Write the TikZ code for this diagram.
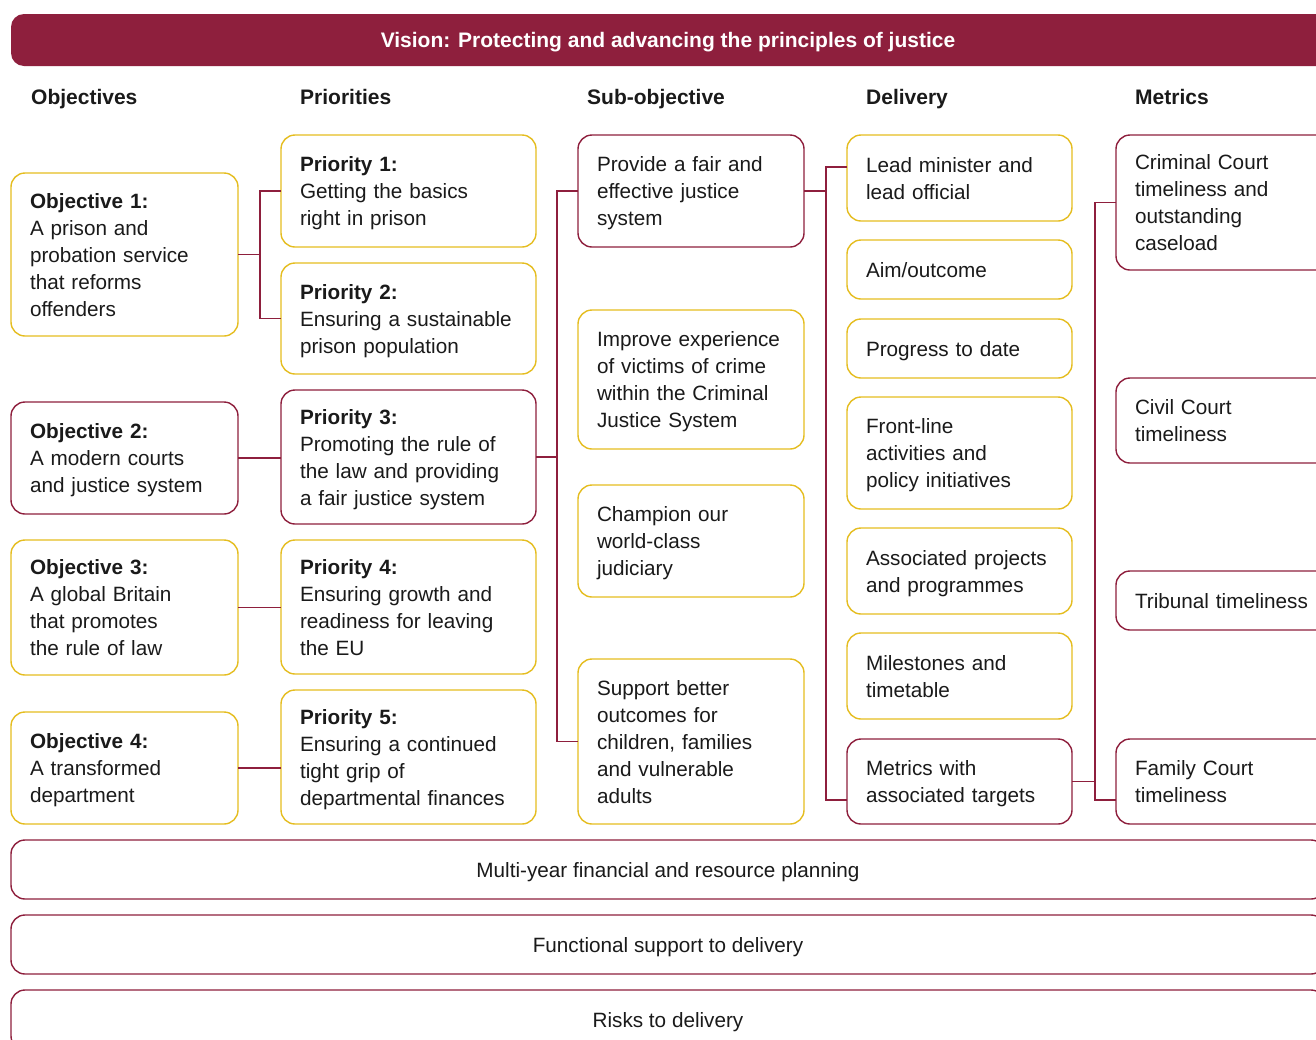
\documentclass[tikz,border=0pt]{standalone}
\usepackage{fontspec}
\setmainfont{Liberation Sans}
\definecolor{crim}{RGB}{142,31,61}
\definecolor{gold}{RGB}{229,189,32}
\definecolor{ink}{RGB}{26,26,26}
\newcommand\linestrut{\rule[-6pt]{0pt}{27pt}}
\begin{document}
\begin{tikzpicture}[x=1pt,y=-1pt,
  bx/.style={draw, rounded corners=14pt, line width=1.4pt, anchor=north west, align=left,
    inner xsep=19pt, inner ysep=0pt, outer sep=0pt, font=\fontsize{20.7}{27}\selectfont, text=ink,
    execute at begin node={\linestrut}, execute at end node={\linestrut}},
  gbx/.style={bx, draw=gold},
  cbx/.style={bx, draw=crim},
  bar/.style={draw=crim, rounded corners=14pt, line width=1.4pt, anchor=north west, align=center,
    inner sep=0pt, outer sep=0pt, minimum width=1314pt, text height=15pt, text depth=0pt,
    font=\fontsize{20.7}{27}\selectfont, text=ink},
  head/.style={anchor=base west, inner sep=0pt, font=\fontsize{21}{25}\selectfont\bfseries, text=ink},
  link/.style={draw=crim, line width=1.1pt}]
\clip (0,0) rectangle (1316,1039);
\fill[white] (0,0) rectangle (1316,1039);
% banner
\fill[crim, rounded corners=13pt] (11,14) rectangle (1340,66);
\node[text=white, font=\fontsize{21}{25}\selectfont\bfseries, inner sep=0pt, text height=15pt, text depth=0pt] (vision) at (668,40) {Vision: Protecting and advancing the principles of justice};
% headers
\node[head] (h1) at (31,104) {Objectives};
\node[head] (h2) at (300,104) {Priorities};
\node[head] (h3) at (587,104) {Sub-objective};
\node[head] (h4) at (866,104) {Delivery};
\node[head] (h5) at (1135,104) {Metrics};
% objectives
\node[gbx, text width=189pt, minimum height=163pt] (o1) at (11,173) {\textbf{Objective 1:}\\A prison and\\probation service\\that reforms\\offenders};
\node[cbx, text width=189pt, minimum height=112pt] (o2) at (11,402) {\textbf{Objective 2:}\\A modern courts\\and justice system};
\node[gbx, text width=189pt, minimum height=135pt] (o3) at (11,540) {\textbf{Objective 3:}\\A global Britain\\that promotes\\the rule of law};
\node[gbx, text width=189pt, minimum height=112pt] (o4) at (11,712) {\textbf{Objective 4:}\\A transformed\\department};
% priorities
\node[gbx, text width=217pt, minimum height=112pt] (p1) at (281,135) {\textbf{Priority 1:}\\Getting the basics\\right in prison};
\node[gbx, text width=217pt, minimum height=111pt] (p2) at (281,263) {\textbf{Priority 2:}\\Ensuring a sustainable\\prison population};
\node[cbx, text width=217pt, minimum height=134pt] (p3) at (281,390) {\textbf{Priority 3:}\\Promoting the rule of\\the law and providing\\a fair justice system};
\node[gbx, text width=217pt, minimum height=134pt] (p4) at (281,540) {\textbf{Priority 4:}\\Ensuring growth and\\readiness for leaving\\the EU};
\node[gbx, text width=217pt, minimum height=134pt] (p5) at (281,690) {\textbf{Priority 5:}\\Ensuring a continued\\tight grip of\\departmental finances};
% sub-objectives
\node[cbx, text width=188pt, minimum height=112pt] (s1) at (578,135) {Provide a fair and\\effective justice\\system};
\node[gbx, text width=188pt, minimum height=139pt] (s2) at (578,310) {Improve experience\\of victims of crime\\within the Criminal\\Justice System};
\node[gbx, text width=188pt, minimum height=112pt] (s3) at (578,485) {Champion our\\world-class\\judiciary};
\node[gbx, text width=188pt, minimum height=165pt] (s4) at (578,659) {Support better\\outcomes for\\children, families\\and vulnerable\\adults};
% delivery
\node[gbx, text width=187pt, minimum height=86pt] (d1) at (847,135) {Lead minister and\\lead official};
\node[gbx, text width=187pt, minimum height=59pt] (d2) at (847,240) {Aim/outcome};
\node[gbx, text width=187pt, minimum height=59pt] (d3) at (847,319) {Progress to date};
\node[gbx, text width=187pt, minimum height=112pt] (d4) at (847,397) {Front-line\\activities and\\policy initiatives};
\node[gbx, text width=187pt, minimum height=86pt] (d5) at (847,528) {Associated projects\\and programmes};
\node[gbx, text width=187pt, minimum height=86pt] (d6) at (847,633) {Milestones and\\timetable};
\node[cbx, text width=187pt, minimum height=85pt] (d7) at (847,739) {Metrics with\\associated targets};
% metrics
\node[cbx, text width=200pt, minimum height=135pt] (m1) at (1116,135) {Criminal Court\\timeliness and\\outstanding\\caseload};
\node[cbx, text width=200pt, minimum height=85pt] (m2) at (1116,378) {Civil Court\\timeliness};
\node[cbx, text width=200pt, minimum height=59pt] (m3) at (1116,571) {Tribunal timeliness};
\node[cbx, text width=200pt, minimum height=85pt] (m4) at (1116,739) {Family Court\\timeliness};
% bottom bars
\node[bar, minimum height=59pt] (b1) at (11,840) {Multi-year financial and resource planning};
\node[bar, minimum height=59pt] (b2) at (11,915) {Functional support to delivery};
\node[bar, minimum height=60pt] (b3) at (11,990) {Risks to delivery};
% connectors
\coordinate (j1) at (260,254.5);
\draw[link] (o1.east) -- (j1);
\draw[link] (p1.west) -| (j1) |- (p2.west);
\draw[link] (o2.east) -- (o2.east -| p3.west);
\draw[link] (o3.east) -- (o3.east -| p4.west);
\draw[link] (o4.east) -- (o4.east -| p5.west);
\coordinate (j2) at (557,457);
\draw[link] (p3.east) -- (p3.east -| j2);
\draw[link] (s1.west) -| (j2) |- (s4.west);
\coordinate (dtop) at (826,167);
\coordinate (dbot) at (826,800);
\draw[link] (s1.east) -- (s1.east -| dtop);
\draw[link] (dtop -| d1.west) -- (dtop) -- (dbot) -- (dbot -| d7.west);
\coordinate (mtop) at (1095,202.5);
\coordinate (mbot) at (1095,800);
\draw[link] (d7.east) -- (d7.east -| mtop);
\draw[link] (m1.west) -- (mtop) -- (mbot) -- (mbot -| m4.west);
\end{tikzpicture}
\end{document}
